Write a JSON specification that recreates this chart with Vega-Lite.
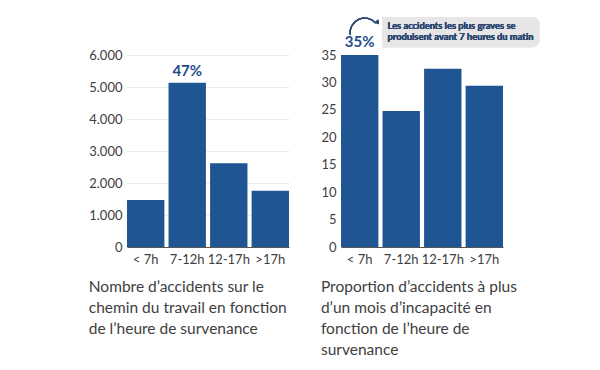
{
  "$schema": "https://vega.github.io/schema/vega-lite/v6.json",
  "background": "white",
  "padding": {"left": 88, "top": 17, "right": 5, "bottom": 5},
  "spacing": 52,
  "bounds": "flush",
  "config": {
    "font": "Lato",
    "view": {"stroke": null},
    "axis": {
      "labelFont": "Lato",
      "labelColor": "#404040",
      "labelFontSize": 13,
      "ticks": false,
      "title": null,
      "labelOverlap": false
    },
    "axisX": {"domainColor": "#555555", "domainWidth": 1, "labelAngle": 0, "labelPadding": 6, "grid": false},
    "axisY": {"domain": false, "gridColor": "#ececec", "labelPadding": 5, "labelFlush": false, "tickCount": 20},
    "title": {"font": "Lato", "fontSize": 15.5, "fontWeight": "normal", "color": "#404040", "lineHeight": 21}
  },
  "hconcat": [
    {
      "width": 162,
      "height": 192,
      "data": {"values": [
        {"periode": "< 7h", "nombre": 1470},
        {"periode": "7-12h", "nombre": 5130, "label": "47%"},
        {"periode": "12-17h", "nombre": 2620},
        {"periode": ">17h", "nombre": 1760}
      ]},
      "title": {
        "text": ["Nombre d’accidents sur le", "chemin du travail en fonction", "de l’heure de survenance"],
        "orient": "bottom", "anchor": "start", "frame": "bounds", "offset": 14
      },
      "layer": [
        {
          "mark": {"type": "bar", "color": "#1f5592"},
          "encoding": {
            "x": {"field": "periode", "type": "nominal", "sort": null,
                  "scale": {"domain": ["< 7h", "7-12h", "12-17h", ">17h"], "paddingInner": 0.1, "paddingOuter": 0}},
            "y": {"field": "nombre", "type": "quantitative",
                  "scale": {"domain": [0, 6000]},
                  "axis": {"values": [0, 1000, 2000, 3000, 4000, 5000, 6000], "tickCount": 20,
                           "labelExpr": "replace(format(datum.value, ','), ',', '.')"}}
          }
        },
        {
          "transform": [{"filter": "datum.label"}],
          "mark": {"type": "text", "color": "#1f4e8c", "fontSize": 15, "fontWeight": "bold", "baseline": "bottom", "dy": -4},
          "encoding": {
            "x": {"field": "periode", "type": "nominal", "sort": null},
            "y": {"field": "nombre", "type": "quantitative"},
            "text": {"field": "label"}
          }
        }
      ]
    },
    {
      "width": 162,
      "height": 192,
      "data": {"values": [
        {"periode": "< 7h", "proportion": 35, "label": "35%"},
        {"periode": "7-12h", "proportion": 24.8},
        {"periode": "12-17h", "proportion": 32.5},
        {"periode": ">17h", "proportion": 29.4}
      ]},
      "title": {
        "text": ["Proportion d’accidents à plus", "d’un mois d’incapacité en", "fonction de l’heure de", "survenance"],
        "orient": "bottom", "anchor": "start", "frame": "bounds", "offset": 14
      },
      "layer": [
        {
          "mark": {"type": "rect", "color": "#e6e6e6", "cornerRadiusTopRight": 7, "cornerRadiusBottomRight": 7, "x2Offset": 55, "clip": false},
          "encoding": {
            "x": {"datum": "7-12h", "type": "nominal", "bandPosition": 0,
                  "scale": {"domain": ["< 7h", "7-12h", "12-17h", ">17h"], "paddingInner": 0.1, "paddingOuter": 0}},
            "x2": {"datum": ">17h"},
            "y": {"datum": 41.9, "type": "quantitative", "scale": {"domain": [0, 35]}},
            "y2": {"datum": 36.4}
          }
        },
        {
          "mark": {"type": "text", "color": "#2c4770", "fontSize": 9.3, "fontWeight": "bold", "align": "left", "baseline": "middle", "lineHeight": 11, "dx": 5},
          "encoding": {
            "x": {"datum": "7-12h", "type": "nominal", "bandPosition": 0},
            "y": {"datum": 40.2, "type": "quantitative"},
            "text": {"value": ["Les accidents les plus graves se", "produisent avant 7 heures du matin"]}
          }
        },
        {
          "mark": {"type": "arc", "color": "#2c4770", "innerRadius": 14, "outerRadius": 15.3, "theta": -1.7, "theta2": 0.85, "xOffset": 5},
          "encoding": {
            "x": {"datum": "< 7h", "type": "nominal"},
            "y": {"datum": 39.05, "type": "quantitative"}
          }
        },
        {
          "mark": {"type": "point", "shape": "triangle-right", "filled": true, "color": "#2c4770", "opacity": 1, "size": 22, "angle": 50, "xOffset": 18},
          "encoding": {
            "x": {"datum": "< 7h", "type": "nominal"},
            "y": {"datum": 40.9, "type": "quantitative"}
          }
        },
        {
          "mark": {"type": "bar", "color": "#1f5592"},
          "encoding": {
            "x": {"field": "periode", "type": "nominal", "sort": null},
            "y": {"field": "proportion", "type": "quantitative",
                  "axis": {"values": [0, 5, 10, 15, 20, 25, 30, 35], "tickCount": 20}}
          }
        },
        {
          "transform": [{"filter": "datum.label"}],
          "mark": {"type": "text", "color": "#1f4e8c", "fontSize": 15, "fontWeight": "bold", "baseline": "bottom", "dy": -5},
          "encoding": {
            "x": {"field": "periode", "type": "nominal", "sort": null},
            "y": {"field": "proportion", "type": "quantitative"},
            "text": {"field": "label"}
          }
        }
      ]
    }
  ]
}
